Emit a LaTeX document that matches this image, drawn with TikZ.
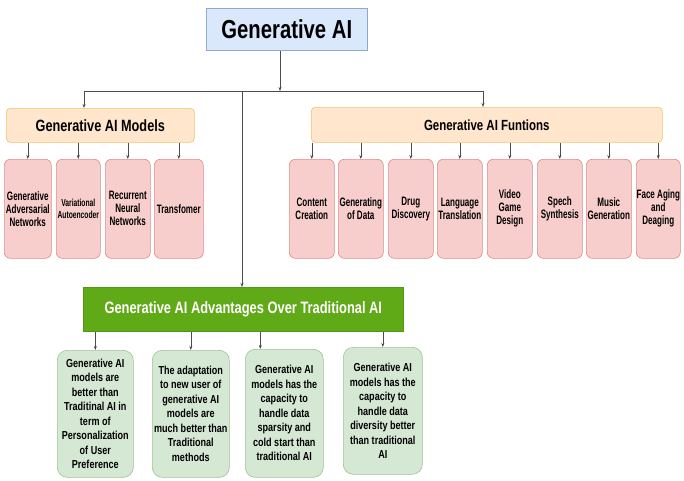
\documentclass[tikz,border=0pt]{standalone}
\usepackage{fontspec}
\setmainfont{Liberation Sans}[FakeStretch=0.78]
\newfontfamily\narrowsans{Liberation Sans}[FakeStretch=0.66]
\usepackage{tikz}
\usetikzlibrary{arrows.meta,positioning}
\definecolor{rootfill}{HTML}{DAE8FC}
\definecolor{rootline}{HTML}{8EA9D8}
\definecolor{headfill}{HTML}{FFE6CC}
\definecolor{headline}{HTML}{EFC36A}
\definecolor{itemfill}{HTML}{F8CECC}
\definecolor{itemline}{HTML}{D98C8A}
\definecolor{advfill}{HTML}{60A917}
\definecolor{advline}{HTML}{4E9A12}
\definecolor{notefill}{HTML}{D5E8D4}
\definecolor{noteline}{HTML}{9CC58A}

\begin{document}
\begin{tikzpicture}[
    x=1pt, y=-1pt,
    font=\bfseries,
    link/.style={draw=black!70, line width=0.6pt},
    tip/.style={link, -{Stealth[length=4pt, width=3pt]}},
    box/.style={anchor=north west, align=center, inner sep=0, line width=0.6pt},
    rootbox/.style={box, fill=rootfill, draw=rootline, font=\fontsize{26}{28}\bfseries},
    headbox/.style={box, fill=headfill, draw=headline, rounded corners=4pt},
    itembox/.style={box, fill=itemfill, draw=itemline, rounded corners=6pt,
        minimum height=99, font=\narrowsans\fontsize{12.2}{13}\bfseries},
    advbox/.style={box, fill=advfill, draw=advline, text=white,
        font=\fontsize{16.5}{18}\bfseries},
    notebox/.style={box, fill=notefill, draw=noteline, rounded corners=10pt,
        minimum height=127, font=\fontsize{11.6}{14.5}\bfseries}]
\useasboundingbox (0,0) rectangle (684,480);

% top level
\node[rootbox, minimum width=161, minimum height=42] (GenAI) at (206,8) {Generative AI};
\node[headbox, minimum width=188, minimum height=34, font=\fontsize{16.3}{18}\bfseries] (Models) at (6,108) {Generative AI Models};
\node[headbox, minimum width=351, minimum height=35, font=\fontsize{14.7}{16}\bfseries] (Funcs) at (311,107) {Generative AI Funtions};
\node[advbox, minimum width=320, minimum height=44] (Adv) at (83,287) {Generative AI Advantages Over Traditional AI};

% models
\node[itembox, minimum width=47] (M1) at (4,159) {Generative\\Adversarial\\Networks};
\node[itembox, minimum width=44, font=\narrowsans\fontsize{10.2}{12}\bfseries] (M2) at (56,159) {Variational\\Autoencoder};
\node[itembox, minimum width=45] (M3) at (105,159) {Recurrent\\Neural\\Networks};
\node[itembox, minimum width=49] (M4) at (154,159) {Transfomer};

% functions
\node[itembox, minimum width=45] (F1) at (289,159) {Content\\Creation};
\node[itembox, minimum width=45] (F2) at (338,159) {Generating\\of Data};
\node[itembox, minimum width=45] (F3) at (388,159) {Drug\\Discovery};
\node[itembox, minimum width=45] (F4) at (437,159) {Language\\Translation};
\node[itembox, minimum width=45] (F5) at (487,159) {Video\\Game\\Design};
\node[itembox, minimum width=45] (F6) at (537,159) {Spech\\Synthesis};
\node[itembox, minimum width=45] (F7) at (586,159) {Music\\Generation};
\node[itembox, minimum width=44] (F8) at (636,159) {Face Aging\\and\\Deaging};

% advantages
\node[notebox, minimum width=76] (A1) at (57,350) {Generative AI\\models are\\better than\\Traditinal AI in\\term of\\Personalization\\of User\\Preference};
\node[notebox, minimum width=77] (A2) at (152,350) {The adaptation\\to new user of\\generative AI\\models are\\much better than\\Traditional\\methods};
\node[notebox, minimum width=78, minimum height=128] (A3) at (245,349) {Generative AI\\models has the\\capacity to\\handle data\\sparsity and\\cold start than\\traditional AI};
\node[notebox, minimum width=79] (A4) at (343,347) {Generative AI\\models has the\\capacity to\\handle data\\diversity better\\than traditional\\AI};

% bus
\coordinate (bus) at (280,91);
\coordinate (busL) at (84,91);
\coordinate (busR) at (483,91);
\coordinate (busA) at (242,91);
\draw[tip] (GenAI.south -| bus) -- (bus);
\draw[link] (busL) -- (busR);
\draw[tip] (busL) -- (busL |- Models.north);
\draw[tip] (busR) -- (busR |- Funcs.north);
\draw[tip] (busA) -- (busA |- Adv.north);

% children
\foreach \n in {M1,M2,M3,M4}
    \draw[tip] (Models.south -| \n.north) -- (\n.north);
\foreach \n in {F1,F2,F3,F4,F5,F6,F7,F8}
    \draw[tip] (Funcs.south -| \n.north) -- (\n.north);
\foreach \n in {A1,A2,A4}
    \draw[tip] (Adv.south -| \n.north) -- (\n.north);
\draw[tip] ([xshift=-24pt]A3.north |- Adv.south) -- ([xshift=-24pt]A3.north);

\end{tikzpicture}
\end{document}
